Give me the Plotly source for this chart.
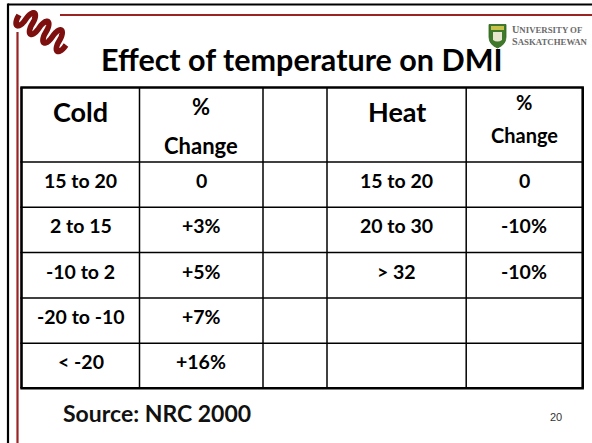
import numpy as np
import plotly.graph_objects as go

# ---------------- data ----------------
title_text = "Effect of temperature on DMI"
header_cells = ["Cold", "%\nChange", "", "Heat", "%\nChange"]
cold_ranges = ["15 to 20", "2 to 15", "-10 to 2", "-20 to -10", "< -20"]
cold_change = ["0", "+3%", "+5%", "+7%", "+16%"]
spacer_col = ["", "", "", "", ""]
heat_ranges = ["15 to 20", "20 to 30", "> 32", "", ""]
heat_change = ["0", "-10%", "-10%", "", ""]
source_text = "Source: NRC 2000"
page_number = "20"
univ_line1 = ("U", "NIVERSITY OF")
univ_line2 = ("S", "ASKATCHEWAN")

# ---------------- layout / style ----------------
W, H = 592, 443
col_edges = [21.5, 139.5, 263.0, 327.0, 466.2, 582.7]
row_edges = [87.5, 162.0, 207.3, 252.6, 298.0, 343.3, 388.3]
header_line_y = [[111], [106.5, 145], [], [111], [102, 135]]
header_sizes = [27, 22, 22, 27, 20]
cell_size = 19.5
cell_dy = 18.5
BLACK = "#000000"
RED = "#9a2424"
FONT = "Lato"

fig = go.Figure()
shapes = []
annotations = []

# slide frame lines
shapes.append(dict(type="line", x0=8, x1=W + 5, y0=4.5, y1=4.5, line=dict(color=BLACK, width=2.2)))
shapes.append(dict(type="line", x0=8, x1=8, y0=3.5, y1=H + 5, line=dict(color=BLACK, width=2.2)))
shapes.append(dict(type="line", x0=60, x1=W + 5, y0=15, y1=15, line=dict(color=RED, width=2.2)))
shapes.append(dict(type="line", x0=17.5, x1=17.5, y0=32, y1=H + 5, line=dict(color=RED, width=2.2)))

# table grid
for i, x in enumerate(col_edges):
    w = 2.6 if i in (0, len(col_edges) - 1) else 1.5
    shapes.append(dict(type="line", x0=x, x1=x, y0=row_edges[0], y1=row_edges[-1], line=dict(color=BLACK, width=w)))
for j, y in enumerate(row_edges):
    w = 2.6 if j in (0, len(row_edges) - 1) else 1.5
    shapes.append(dict(type="line", x0=col_edges[0] - 1.2, x1=col_edges[-1] + 1.2, y0=y, y1=y, line=dict(color=BLACK, width=w)))

col_centers = [(col_edges[i] + col_edges[i + 1]) / 2 for i in range(len(col_edges) - 1)]

# header texts
for c, txt in enumerate(header_cells):
    if not txt:
        continue
    for line, y in zip(txt.split("\n"), header_line_y[c]):
        annotations.append(dict(x=col_centers[c], y=y, text=line, showarrow=False,
                                xanchor="center", yanchor="middle",
                                font=dict(family=FONT, size=header_sizes[c], color=BLACK, weight=700)))

# body cells
columns = [cold_ranges, cold_change, spacer_col, heat_ranges, heat_change]
for c, col in enumerate(columns):
    for r, txt in enumerate(col):
        if not txt:
            continue
        annotations.append(dict(x=col_centers[c], y=row_edges[r + 1] + cell_dy, text=txt, showarrow=False,
                                xanchor="center", yanchor="middle",
                                font=dict(family=FONT, size=cell_size, color=BLACK, weight=700)))

# title
annotations.append(dict(x=302, y=59, text=title_text, showarrow=False, xanchor="center", yanchor="middle",
                        font=dict(family=FONT, size=30.5, color=BLACK, weight=700)))
# source
annotations.append(dict(x=156.5, y=412.5, text=source_text, showarrow=False, xanchor="center", yanchor="middle",
                        font=dict(family=FONT, size=23, color="#111111", weight=700)))
# page number
annotations.append(dict(x=556, y=417, text=page_number, showarrow=False, xanchor="center", yanchor="middle",
                        font=dict(family="Liberation Serif", size=12, color="#333333") if False else
                        dict(family="Liberation Sans", size=11, color="#333333")))

# university wordmark
for (big, small), y in zip([univ_line1, univ_line2], [29.8, 41.8]):
    annotations.append(dict(x=509.5, y=y, showarrow=False, xanchor="left", yanchor="middle",
                            text=f"{big}<span style='font-size:8.8px'>{small}</span>",
                            font=dict(family="Liberation Serif", size=10.2, color="#6a6a6a", weight=700)))

# university shield
shapes.append(dict(type="path", path="M489,24.5 L506,24.5 L506,37 Q506,44.5 497.5,48 Q489,44.5 489,37 Z",
                   fillcolor="#3f7a2c", line=dict(color="#2f6420", width=0.8)))
shapes.append(dict(type="path", path="M491,26 L504,26 L504,30 L491,30 Z", fillcolor="#c9c24a", line=dict(width=0)))
shapes.append(dict(type="path", path="M493,32 L502,32 L502,40 Q497.5,43 493,40 Z", fillcolor="#e9e6cf", line=dict(width=0)))

# swirl logo (decorative serpentine)
A = np.array([19.0, 15.0])
B = np.array([66.0, 45.0])
d = B - A
L = np.hypot(*d)
u = d / L
n = np.array([-u[1], u[0]])
t = np.linspace(0, 1, 300)
s = np.sin(2 * np.pi * 3.5 * t)
wave = np.sign(s) * np.abs(s) ** 0.45
pts = A[None, :] + d[None, :] * t[:, None] + n[None, :] * 10.0 * wave[:, None]
path = "M" + " L".join(f"{x:.2f},{y:.2f}" for x, y in pts)
shapes.append(dict(type="path", path=path, line=dict(color="#7d0f0f", width=5.6)))

fig.update_layout(
    width=W, height=H, autosize=False,
    margin=dict(l=0, r=0, t=0, b=0),
    paper_bgcolor="white", plot_bgcolor="white",
    xaxis=dict(range=[0, W], visible=False, fixedrange=True),
    yaxis=dict(range=[H, 0], visible=False, fixedrange=True),
    shapes=shapes, annotations=annotations, showlegend=False,
)

fig.write_html("out.html", config=dict(displayModeBar=False),
               post_script="document.body.style.margin='0';document.body.style.overflow='hidden';")
